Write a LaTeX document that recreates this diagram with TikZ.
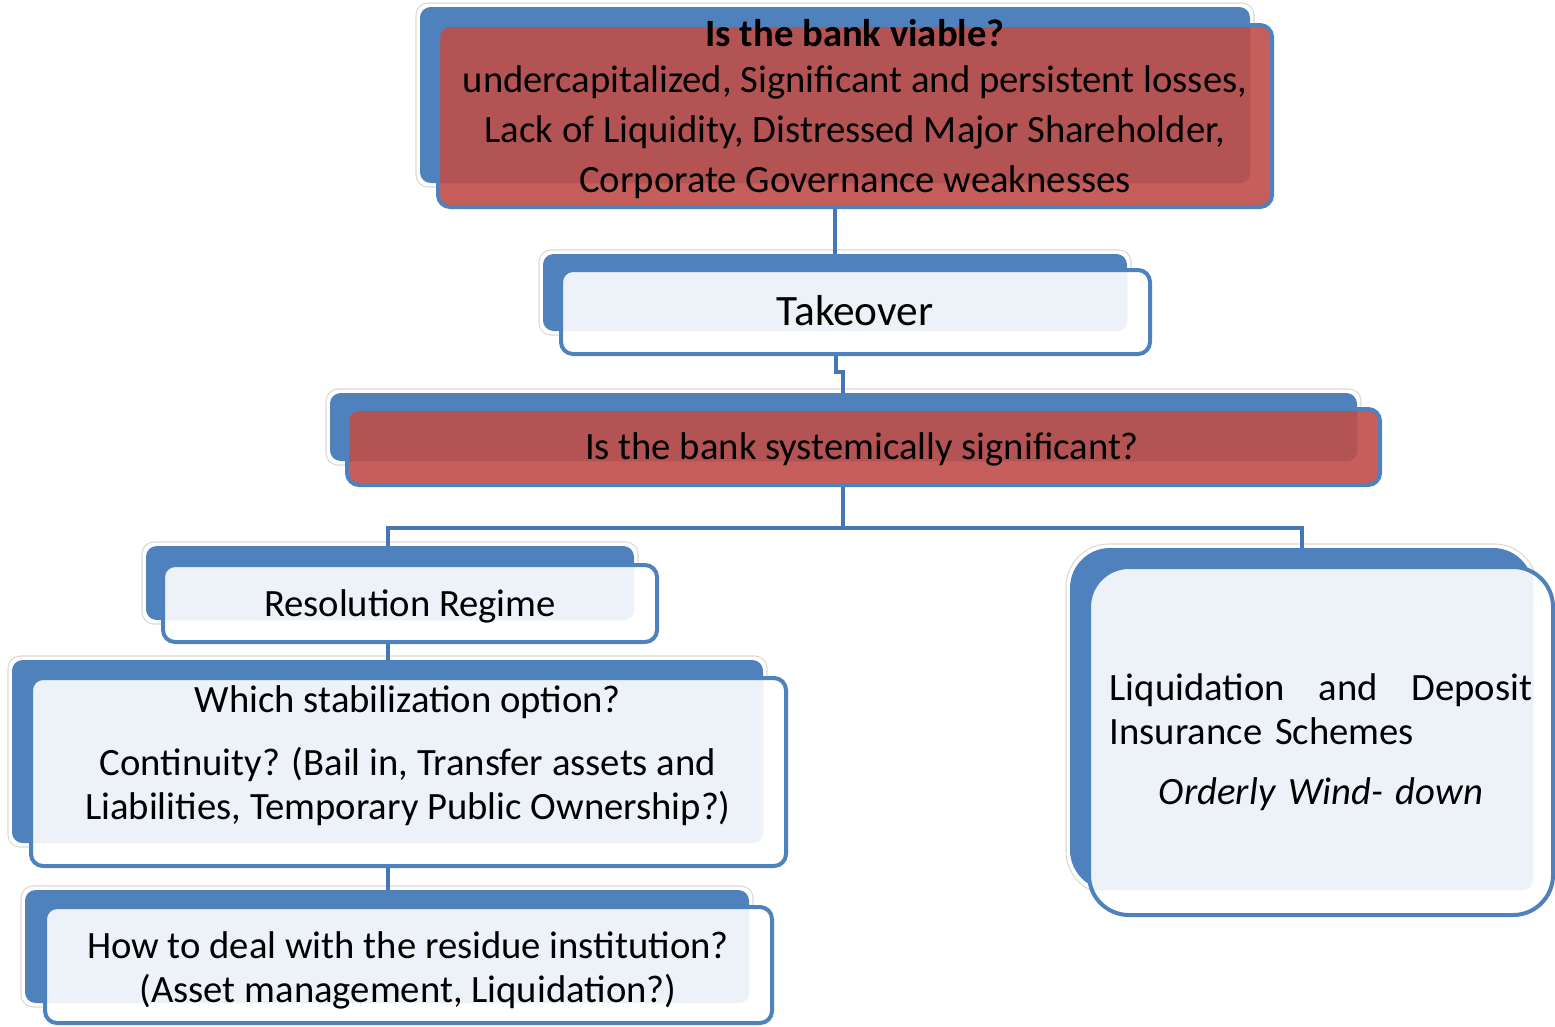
\documentclass[tikz,border=0pt]{standalone}
\usepackage{fontspec}
\setmainfont{Carlito}
\usetikzlibrary{fit}

\definecolor{boxblue}{RGB}{79,129,189}
\definecolor{linkblue}{RGB}{70,118,180}
\definecolor{palefill}{RGB}{237,242,249}
\definecolor{redfill}{RGB}{198,94,91}
\definecolor{redshade}{RGB}{180,83,84}

\tikzset{
  rim/.style={draw=black!15, line width=0.8pt, rounded corners=9pt},
  backbox/.style={fill=boxblue, inner sep=0pt, rounded corners=8pt},
  frontbox/.style={draw=boxblue, line width=3pt, inner sep=0pt, rounded corners=9pt},
  plainbox/.style={frontbox, fill=white},
  alertbox/.style={frontbox, fill=redfill},
  % tint the part of the front box that lies over its back box
  overlap/.style 2 args={path picture={\fill[#1, rounded corners=8pt] (#2.south west) rectangle (#2.north east);}},
  link/.style={draw=linkblue, line width=3pt},
  txt/.style={font=\fontsize{29}{33}\selectfont, align=center, inner sep=0pt},
}

\begin{document}
\begin{tikzpicture}[x=0.75pt,y=0.75pt,yscale=-1]
    \path[use as bounding box] (0,0) rectangle (1555,1026);

    % viability test
    \draw[rim] (416,3) rectangle (1254,187);
    \node[backbox, fit={(420,7) (1250,183)}] (viable-bg) {};
    \node[alertbox, overlap={redshade}{viable-bg}, fit={(438,25) (1272,207)}] (viable) {};

    % takeover
    \draw[rim] (539,250) rectangle (1131,335);
    \node[backbox, fit={(543,254) (1127,331)}] (takeover-bg) {};
    \node[plainbox, overlap={palefill}{takeover-bg}, fit={(561,270) (1150,354)}] (takeover) {};

    % systemic significance test
    \draw[rim] (326,389) rectangle (1361,465);
    \node[backbox, fit={(330,393) (1357,461)}] (systemic-bg) {};
    \node[alertbox, overlap={redshade}{systemic-bg}, fit={(347,409) (1380,485)}] (systemic) {};

    % resolution branch
    \draw[rim] (142,542) rectangle (638,624);
    \node[backbox, fit={(146,546) (634,620)}] (resolution-bg) {};
    \node[plainbox, overlap={palefill}{resolution-bg}, fit={(163,565) (657,642)}] (resolution) {};

    \draw[rim] (8,656) rectangle (767,847);
    \node[backbox, fit={(12,660) (763,843)}] (stabilization-bg) {};
    \node[plainbox, overlap={palefill}{stabilization-bg}, fit={(31,678) (786,866)}] (stabilization) {};

    \draw[rim] (21,886) rectangle (753,1007);
    \node[backbox, fit={(25,890) (749,1003)}] (residue-bg) {};
    \node[plainbox, overlap={palefill}{residue-bg}, fit={(45,907) (772,1023)}] (residue) {};

    % liquidation branch
    \draw[rim, rounded corners=32pt] (1066,544) rectangle (1537,894);
    \node[backbox, rounded corners=30pt, fit={(1070,548) (1533,890)}] (liquidation-bg) {};
    \node[plainbox, rounded corners=30pt, overlap={palefill}{liquidation-bg}, fit={(1089,567) (1553,915)}] (liquidation) {};

    % connectors
    \coordinate (spine) at (835,0);
    \coordinate (jog) at (836,372);
    \coordinate (split) at (843,528);
    \coordinate (left-drop) at (388,0);
    \coordinate (right-drop) at (1302,0);
    \draw[link] (viable.south -| spine) -- (takeover-bg.north -| spine);
    \draw[link] (takeover.south -| jog) -- (jog) -- ++(7,0) coordinate (jog2) -- (systemic-bg.north -| jog2);
    \draw[link] (systemic.south -| split) -- (split);
    \draw[link] (resolution-bg.north -| left-drop) |- (split) -| (liquidation-bg.north -| right-drop);
    \draw[link] (resolution.south -| left-drop) -- (stabilization-bg.north -| left-drop);
    \draw[link] (stabilization.south -| left-drop) -- (residue-bg.north -| left-drop);

    % texts
    \node[txt, font=\fontsize{29}{37.5}\selectfont] (viable-text) at (855,109)
        {\textbf{Is the bank viable?}\\[-2.5pt]
         undercapitalized, Significant and persistent losses,\\
         Lack of Liquidity, Distressed Major Shareholder,\\
         Corporate Governance weaknesses};
    \node[txt, font=\fontsize{32.5}{38}\selectfont] (takeover-text) at (855,311) {Takeover};
    \node[txt] (systemic-text) at (862,449) {Is the bank systemically significant?};
    \node[txt] (resolution-text) at (410,606) {Resolution Regime};
    \node[txt] (stabilization-text) at (408,756)
        {Which stabilization option?\\[14pt]
         Continuity? (Bail in, Transfer assets and\\
         Liabilities, Temporary Public Ownership?)};
    \node[txt] (residue-text) at (408,970)
        {How to deal with the residue institution?\\
         (Asset management, Liquidation?)};
    \node[txt, text width=317pt, align=left] (liquidation-text) at (1321,742)
        {\makebox[317pt][s]{Liquidation\hfill and\hfill Deposit}\\
         Insurance Schemes\\[12pt]
         \makebox[317pt][c]{\textit{Orderly Wind- down}}};
\end{tikzpicture}
\end{document}
